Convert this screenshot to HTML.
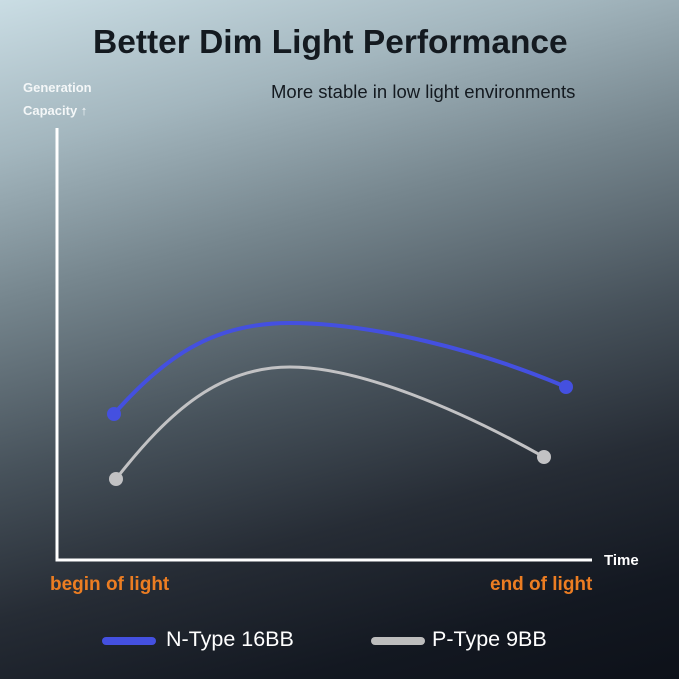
<!DOCTYPE html>
<html><head><style>
html,body{margin:0;padding:0}
body{width:679px;height:679px;overflow:hidden;position:relative;
background:linear-gradient(165deg,#cadde4 0%,#a3b6be 18%,#76868e 35%,#47525b 55%,#262c35 72%,#131821 88%,#0d1119 100%);
font-family:"Liberation Sans",sans-serif}
.t{position:absolute;white-space:nowrap}
</style></head><body>
<div class="t" style="left:93px;top:24px;font-size:33.5px;font-weight:bold;color:#141a20">Better Dim Light Performance</div>
<div class="t" style="left:271px;top:81px;font-size:18.5px;color:#141a20">More stable in low light environments</div>
<div class="t" style="left:23px;top:80px;font-size:13px;font-weight:bold;color:#f4f7f8">Generation</div>
<div class="t" style="left:23px;top:103px;font-size:13px;font-weight:bold;color:#f4f7f8">Capacity ↑</div>
<div class="t" style="left:604px;top:552px;font-size:15px;font-weight:bold;color:#fff">Time</div>
<div class="t" style="left:50px;top:574px;font-size:19px;font-weight:bold;color:#ec7d22">begin of light</div>
<div class="t" style="left:490px;top:574px;font-size:19px;font-weight:bold;color:#ec7d22">end of light</div>
<div class="t" style="left:166px;top:627px;font-size:21.5px;color:#fff">N-Type 16BB</div>
<div class="t" style="left:432px;top:627px;font-size:21.5px;color:#fff">P-Type 9BB</div>
<svg width="679" height="679" style="position:absolute;left:0;top:0">
<polyline points="57,128 57,560 592,560" fill="none" stroke="#fff" stroke-width="3"/>
<path d="M114,414 C170,350 220,323 290,323 C370,323 480,350 566,387" fill="none" stroke="#4450e0" stroke-width="4"/>
<path d="M116,479 C170,410 220,367 290,367 C360,367 460,410 544,457" fill="none" stroke="#c2c2c4" stroke-width="3"/>
<circle cx="114" cy="414" r="7" fill="#4450e0"/>
<circle cx="566" cy="387" r="7" fill="#4450e0"/>
<circle cx="116" cy="479" r="7" fill="#c2c2c4"/>
<circle cx="544" cy="457" r="7" fill="#c2c2c4"/>
<line x1="106" y1="641" x2="152" y2="641" stroke="#4450e0" stroke-width="8" stroke-linecap="round"/>
<line x1="375" y1="641" x2="421" y2="641" stroke="#bdbdbd" stroke-width="8" stroke-linecap="round"/>
</svg>
</body></html>
